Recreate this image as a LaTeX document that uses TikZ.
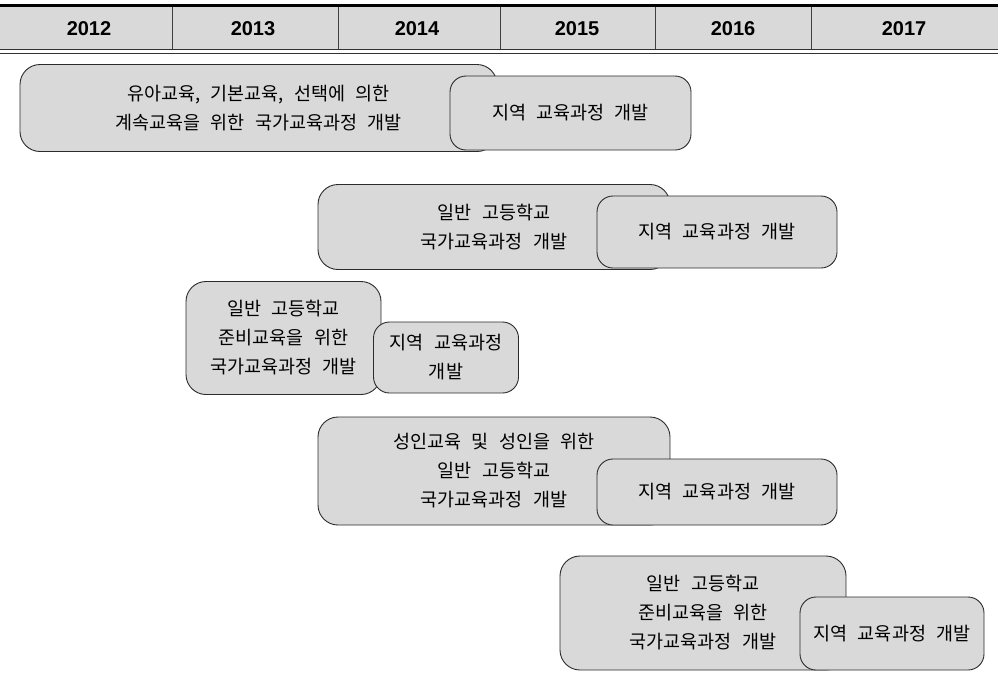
\documentclass[tikz,border=0pt]{standalone}
\usepackage{fontspec}
\setmainfont{Liberation Sans}
\newfontfamily\kofont[WordSpace=2.5]{Noto Sans CJK KR}
\definecolor{cellgray}{HTML}{D9D9D9}
\definecolor{edgegray}{HTML}{2B2B2B}
\begin{document}
\begin{tikzpicture}[x=1pt,y=-1pt,
  yearlabel/.style={font=\bfseries\fontsize{20}{22}\selectfont, inner sep=0},
  planbox/.style={draw=edgegray, fill=cellgray, line width=0.9pt,
    rounded corners=20pt, inner sep=0, align=center,
    font=\kofont\fontsize{18.5}{29}\selectfont},
  localbox/.style={planbox, rounded corners=16pt}]
\useasboundingbox (0,0) rectangle (998,678);

% header band with year columns
\fill[cellgray] (0,7) rectangle (998,50);
\foreach \xd in {172,338,500,655,811}
  \draw[black!75, line width=0.8pt] (\xd,7) -- (\xd,50);
\draw[black, line width=3pt] (0,5.5) -- (998,5.5);
\draw[black!80, line width=1.4pt] (0,49.5) -- (998,49.5);
\draw[black!80, line width=1pt] (0,53) -- (998,53);
\node[yearlabel] (y2012) at (89,29) {2012};
\node[yearlabel] (y2013) at (253,29) {2013};
\node[yearlabel] (y2014) at (417,29) {2014};
\node[yearlabel] (y2015) at (577,29) {2015};
\node[yearlabel] (y2016) at (733,29) {2016};
\node[yearlabel] (y2017) at (904,29) {2017};

% national curricula, each followed by its local curriculum
\node[planbox, minimum width=477pt, minimum height=87pt] (natA) at (258.5,108)
  {유아교육, 기본교육, 선택에 의한\\계속교육을 위한 국가교육과정 개발};
\node[localbox, minimum width=241pt, minimum height=74pt] (locA) at (570.5,113)
  {지역 교육과정 개발};

\node[planbox, minimum width=352pt, minimum height=85pt] (natB) at (494,227)
  {일반 고등학교\\국가교육과정 개발};
\node[localbox, minimum width=240pt, minimum height=72pt] (locB) at (717,232)
  {지역 교육과정 개발};

\node[planbox, minimum width=195pt, minimum height=113pt] (natC) at (283.5,338)
  {일반 고등학교\\준비교육을 위한\\국가교육과정 개발};
\node[localbox, minimum width=145pt, minimum height=71pt] (locC) at (446,357.5)
  {지역 교육과정\\개발};

\node[planbox, minimum width=352pt, minimum height=108pt] (natD) at (494,471)
  {성인교육 및 성인을 위한\\일반 고등학교\\국가교육과정 개발};
\node[localbox, minimum width=240pt, minimum height=66pt] (locD) at (717,492)
  {지역 교육과정 개발};

\node[planbox, minimum width=286pt, minimum height=114pt] (natE) at (703,613)
  {일반 고등학교\\준비교육을 위한\\국가교육과정 개발};
\node[localbox, minimum width=184pt, minimum height=73pt] (locE) at (892,633.5)
  {지역 교육과정 개발};
\end{tikzpicture}
\end{document}
